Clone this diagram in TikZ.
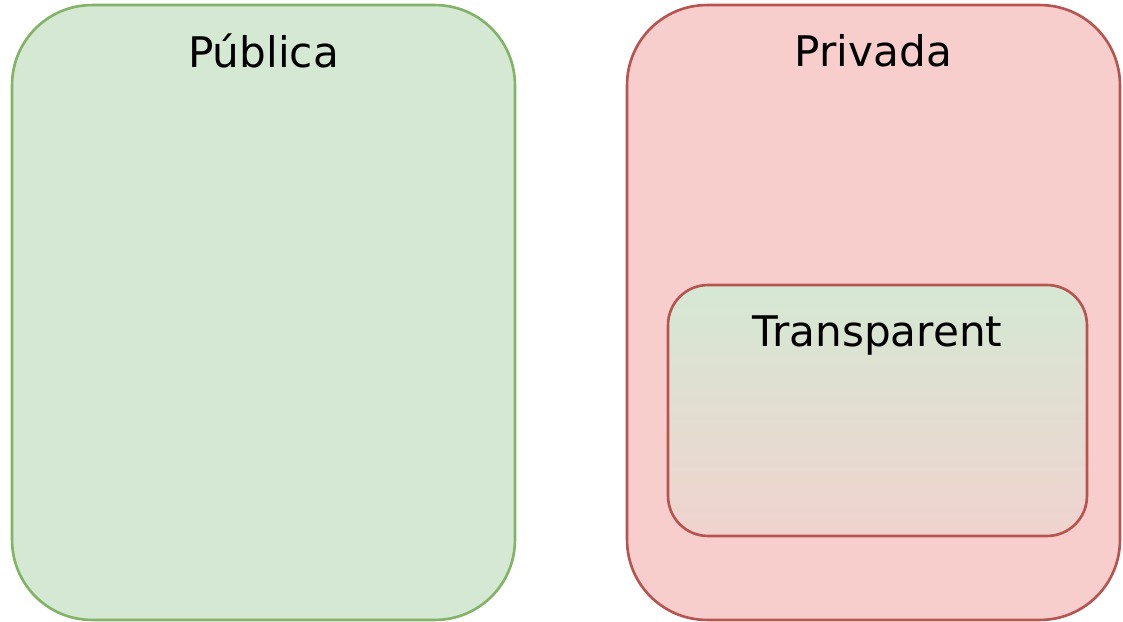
\documentclass[tikz,border=0pt]{standalone}
\usepackage{fontspec}
\setmainfont{DejaVu Sans}
\usepackage{xcolor}
\usetikzlibrary{positioning, calc}

\definecolor{pubfill}{HTML}{D5E8D4}
\definecolor{publine}{HTML}{82B366}
\definecolor{privfill}{HTML}{F8CECC}
\definecolor{privline}{HTML}{B85450}
\definecolor{mixfill}{HTML}{F0D3CE}

\begin{document}
\begin{tikzpicture}[
        x=0.02cm, y=-0.02cm,
        % Style for the two big areas
        zone/.style={
            draw,
            rectangle,
            rounded corners=1.6cm,
            line width=1.5pt
        },
        % Style for the box inside the private area
        subzone/.style={
            draw=privline,
            rectangle,
            rounded corners=0.8cm,
            line width=1.5pt,
            top color=pubfill,
            bottom color=mixfill,
            minimum width=8.38cm,
            minimum height=5.02cm
        },
        title/.style={
            font=\fontsize{24pt}{28pt}\selectfont,
            inner sep=0pt
        }
    ]

    \useasboundingbox (0,0) rectangle (1123,622);

    % ==========================================
    % PUBLIC AREA
    % ==========================================
    \node[zone, fill=pubfill, draw=publine,
          minimum width=10.06cm, minimum height=12.3cm] (publica) at (263.5,312.5) {};
    \node[title] (publicaT) at ($(publica.north)+(0,47)$) {Pública};

    % ==========================================
    % PRIVATE AREA
    % ==========================================
    \node[zone, fill=privfill, draw=privline,
          minimum width=9.86cm, minimum height=12.3cm] (privada) at (873.5,312.5) {};
    \node[title] (privadaT) at ($(privada.north)+(0,47)$) {Privada};

    % Transparent box inside the private area
    \node[subzone] (transp) at (877.5,410.5) {};
    \node[title] (transpT) at ($(transp.north)+(0,52)$) {Transparent};

\end{tikzpicture}
\end{document}
